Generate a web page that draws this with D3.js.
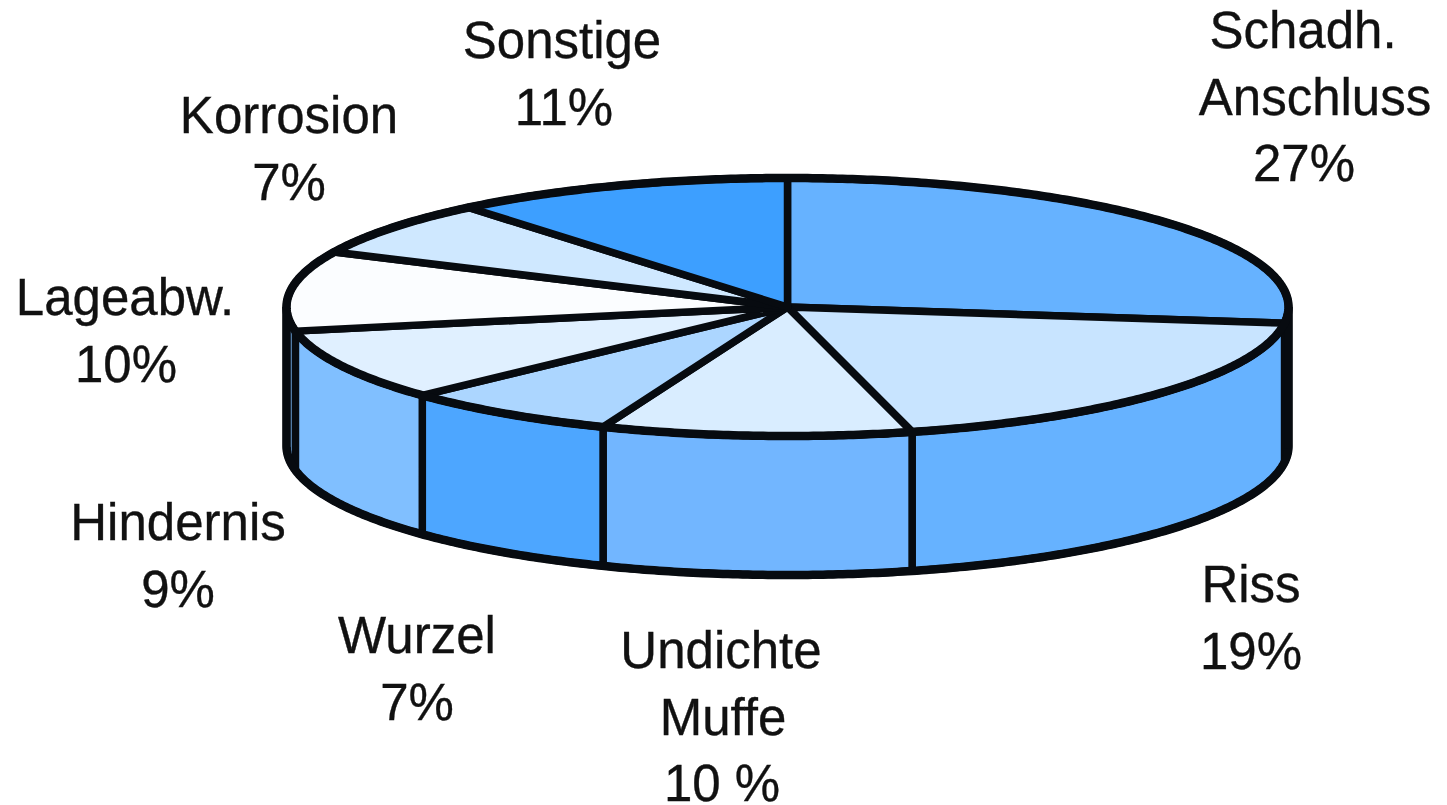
<!DOCTYPE html>
<html>
<head>
<meta charset="utf-8">
<script src="https://cdnjs.cloudflare.com/ajax/libs/d3/7.8.5/d3.min.js"></script>
<style>
  html, body { margin: 0; padding: 0; background: #fff; }
  svg { display: block; }
  .label { font-family: "Liberation Sans", Arial, sans-serif; font-size: 51px; fill: #111; stroke: #111; stroke-width: 0.35; text-anchor: middle; }
  .face, .wall, .rim { stroke: #070b10; stroke-linejoin: round; }
  .face { stroke-width: 7.5; vector-effect: non-scaling-stroke; }
  .wall { stroke-width: 7.5; }
  .rim { fill: none; stroke-width: 8.5; }
</style>
</head>
<body>
<svg width="1447" height="805"></svg>
<script>
// clockwise from 12 o'clock
var categories = ["Schadh. Anschluss", "Riss", "Undichte Muffe", "Wurzel", "Hindernis", "Lageabw.", "Korrosion", "Sonstige"];
var values = [27, 19, 10, 7, 9, 10, 7, 11];
var labelLines = [
  ["Schadh.", "Anschluss", "27%"],
  ["Riss", "19%"],
  ["Undichte", "Muffe", "10 %"],
  ["Wurzel", "7%"],
  ["Hindernis", "9%"],
  ["Lageabw.", "10%"],
  ["Korrosion", "7%"],
  ["Sonstige", "11%"]
];
var topColors = ["#66b2ff", "#c8e4ff", "#d9edff", "#acd6ff", "#e0f0ff", "#fbfdff", "#cfe8ff", "#3d9fff"];
var wallColors = ["#66b2ff", "#66b2ff", "#72b6ff", "#4da6ff", "#80bfff", "#80bfff", "#80bfff", "#80bfff"];

// label placement, one x per line + baseline of first line
var labelX = [
  [1303, 1315, 1304],
  [1251, 1251],
  [721, 723, 722],
  [417, 417],
  [178, 178],
  [125, 126],
  [289, 289],
  [562, 564]
];
var labelY = [48, 602, 668, 653, 540, 315, 133, 58];
var lineGap = 66.5;

var cx = 787.5, cy = 307, rx = 501, ry = 129, depth = 139;

var svg = d3.select("svg");

var pie = d3.pie().sort(null).value(function(d) { return d; });
var slices = pie(values);

var x = d3.scaleLinear().domain([-1, 1]).range([cx - rx, cx + rx]);
var y = d3.scaleLinear().domain([-1, 1]).range([cy - ry, cy + ry]);

function ringPoint(a, drop) {
  return [x(Math.sin(a)), y(-Math.cos(a)) + drop];
}

function sweep(a0, a1) {
  return d3.range(a0, a1, 0.01).concat([a1]);
}

var line = d3.line();

// only the front half of the rim is visible
function wallPath(d) {
  var a0 = Math.max(d.startAngle, Math.PI / 2);
  var a1 = Math.min(d.endAngle, Math.PI * 1.5);
  if (a1 <= a0) return null;
  var steps = sweep(a0, a1);
  var upper = steps.map(function(a) { return ringPoint(a, 0); });
  var lower = steps.slice().reverse().map(function(a) { return ringPoint(a, depth); });
  return line(upper.concat(lower)) + "Z";
}

svg.append("g").selectAll("path")
  .data(slices)
  .enter().append("path")
  .attr("class", "wall")
  .attr("d", wallPath)
  .attr("fill", function(d, i) { return wallColors[i]; });

// heavier silhouette below the walls
svg.append("path")
  .attr("class", "rim")
  .attr("d", line([ringPoint(Math.PI / 2, 0)]
    .concat(sweep(Math.PI / 2, Math.PI * 1.5).map(function(a) { return ringPoint(a, depth); }))
    .concat([ringPoint(Math.PI * 1.5, 0)])));

var arc = d3.arc().innerRadius(0).outerRadius(1);

svg.append("g")
  .attr("transform", "translate(" + cx + "," + cy + ") scale(" + rx + "," + ry + ")")
  .selectAll("path")
  .data(slices)
  .enter().append("path")
  .attr("class", "face")
  .attr("d", arc)
  .attr("fill", function(d, i) { return topColors[i]; });

// top outline over the slices
svg.append("path")
  .attr("class", "rim")
  .attr("d", line(sweep(0, Math.PI * 2).map(function(a) { return ringPoint(a, 0); })) + "Z");

var labels = svg.append("g").selectAll("text")
  .data(categories)
  .enter().append("text")
  .attr("class", "label");

labels.selectAll("tspan")
  .data(function(d, i) {
    return labelLines[i].map(function(t, j) {
      return { text: t, x: labelX[i][j], y: labelY[i] + j * lineGap };
    });
  })
  .enter().append("tspan")
  .attr("x", function(d) { return d.x; })
  .attr("y", function(d) { return d.y; })
  .text(function(d) { return d.text; });
</script>
</body>
</html>
